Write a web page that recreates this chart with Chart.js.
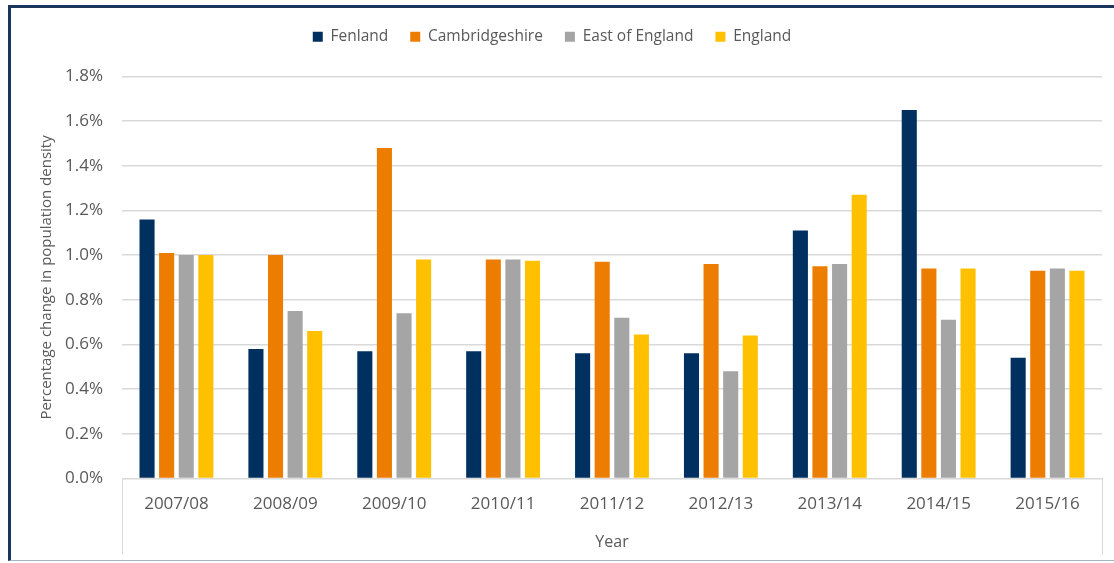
<!DOCTYPE html>
<html>
<head>
<meta charset="utf-8">
<script src="https://cdn.jsdelivr.net/npm/chart.js@4/dist/chart.umd.min.js"></script>
<style>
  html, body { margin: 0; padding: 0; background: #fff; }
  #wrap { position: relative; width: 1114px; height: 563px; overflow: hidden; }
  #frame {
    position: absolute; left: 8px; top: 5px; width: 1120px; height: 552px;
    border-top: 3px solid #1b365d; border-left: 3px solid #1b365d;
    border-bottom: 1px solid #a3b5c9;
  }
  canvas { position: absolute; left: 0; top: 0; }
</style>
</head>
<body>
<div id="wrap">
  <div id="frame"></div>
  <canvas id="chart" width="1114" height="563"></canvas>
</div>
<script>
// Years along the category axis
const years = ['2007/08', '2008/09', '2009/10', '2010/11', '2011/12', '2012/13', '2013/14', '2014/15', '2015/16'];

// Percentage change in population density
const fenland = [1.16, 0.58, 0.57, 0.57, 0.56, 0.56, 1.11, 1.65, 0.54];
const cambridgeshire = [1.01, 1.00, 1.48, 0.98, 0.97, 0.96, 0.95, 0.94, 0.93];
const eastOfEngland = [1.00, 0.75, 0.74, 0.98, 0.72, 0.48, 0.96, 0.71, 0.94];
const england = [1.00, 0.66, 0.98, 0.975, 0.645, 0.64, 1.27, 0.94, 0.93];

const yTicks = [0, 0.2, 0.4, 0.6, 0.8, 1.0, 1.2, 1.4, 1.6, 1.8];

const textColor = '#595959';
const gridColor = '#d9d9d9';
const fontFamily = '"Open Sans", sans-serif';

// Excel style: the category box edges run down past the labels
const categoryBox = {
  id: 'categoryBox',
  afterDraw(chart) {
    const ctx = chart.ctx;
    const area = chart.chartArea;
    ctx.save();
    ctx.strokeStyle = gridColor;
    ctx.lineWidth = 1;
    ctx.beginPath();
    [area.left, area.right].forEach(x => {
      ctx.moveTo(Math.round(x) + 0.5, area.bottom);
      ctx.lineTo(Math.round(x) + 0.5, area.bottom + 76);
    });
    ctx.stroke();
    ctx.restore();
  }
};

// more room under the legend, and nudge it a bit to the left
const legendSpace = {
  id: 'legendSpace',
  beforeInit(chart) {
    if (!chart.legend) return;
    const fit = chart.legend.fit;
    chart.legend.fit = function () {
      fit.call(this);
      this.height += 22;
    };
  },
  afterLayout(chart) {
    if (!chart.legend) return;
    chart.legend.left -= 18;
    chart.legend.right -= 18;
  }
};

const ctx = document.getElementById('chart').getContext('2d');
new Chart(ctx, {
  type: 'bar',
  data: {
    labels: years,
    datasets: [
      { label: 'Fenland', data: fenland, backgroundColor: '#003060' },
      { label: 'Cambridgeshire', data: cambridgeshire, backgroundColor: '#ed7d00' },
      { label: 'East of England', data: eastOfEngland, backgroundColor: '#a5a5a5' },
      { label: 'England', data: england, backgroundColor: '#ffc000' }
    ]
  },
  options: {
    responsive: false,
    animation: false,
    devicePixelRatio: 1,
    layout: { padding: { left: 38, right: 12, top: 7, bottom: 11 } },
    datasets: {
      bar: { categoryPercentage: 0.72, barPercentage: 0.77 }
    },
    plugins: {
      tooltip: { enabled: false },
      legend: {
        position: 'top',
        labels: {
          color: textColor,
          font: { family: fontFamily, size: 15.5 },
          boxWidth: 10,
          boxHeight: 10,
          padding: 22
        }
      }
    },
    scales: {
      x: {
        grid: { display: false },
        border: { color: gridColor },
        ticks: {
          color: textColor,
          font: { family: fontFamily, size: 17 },
          padding: 8
        },
        title: {
          display: true,
          text: 'Year',
          color: textColor,
          font: { family: fontFamily, size: 16 },
          padding: { top: 10, bottom: 0 }
        }
      },
      y: {
        min: 0,
        max: 1.8,
        afterBuildTicks(scale) {
          scale.ticks = yTicks.map(v => ({ value: v }));
        },
        afterFit(scale) {
          scale.width = 84;
        },
        grid: { color: gridColor, drawTicks: false, lineWidth: 1.5 },
        border: { display: false },
        ticks: {
          color: textColor,
          font: { family: fontFamily, size: 17 },
          padding: 19,
          callback: v => v.toFixed(1) + '%'
        },
        title: {
          display: true,
          text: 'Percentage change in population density',
          color: textColor,
          font: { family: fontFamily, size: 15 },
          padding: { top: 0, bottom: 4 }
        }
      }
    }
  },
  plugins: [categoryBox, legendSpace]
});
</script>
</body>
</html>
